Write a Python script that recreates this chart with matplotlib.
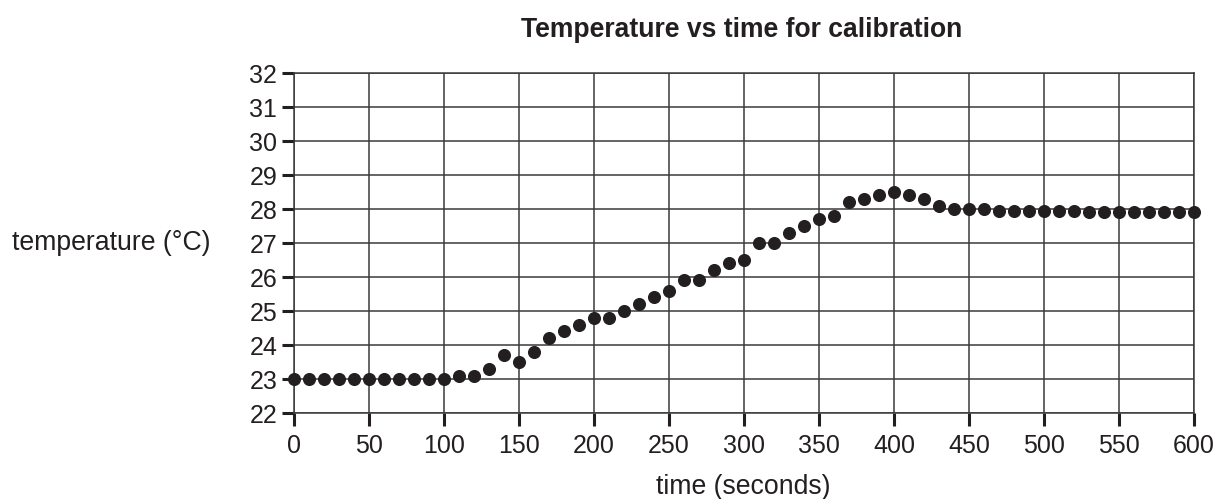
import matplotlib
matplotlib.use("Agg")
import matplotlib.pyplot as plt

# temperature readings every 10 s during the calibration run
time_s = list(range(0, 610, 10))
temp_c = [23.0, 23.0, 23.0, 23.0, 23.0, 23.0, 23.0, 23.0, 23.0, 23.0,
          23.0, 23.1, 23.1, 23.3, 23.7, 23.5, 23.8, 24.2, 24.4, 24.6,
          24.8, 24.8, 25.0, 25.2, 25.4, 25.6, 25.9, 25.9, 26.2, 26.4,
          26.5, 27.0, 27.0, 27.3, 27.5, 27.7, 27.8, 28.2, 28.3, 28.4,
          28.5, 28.4, 28.3, 28.1, 28.0, 28.0, 28.0, 27.95, 27.95, 27.95,
          27.95, 27.95, 27.95, 27.9, 27.9, 27.9, 27.9, 27.9, 27.9, 27.9,
          27.9]

x_ticks = list(range(0, 601, 50))
y_ticks = list(range(22, 33))

plt.rcParams["font.family"] = ["Liberation Sans", "DejaVu Sans"]
ink = "#231f20"
grid_col = "#3a3a3a"

fig = plt.figure(figsize=(12.18, 4.99), dpi=100)
ax = fig.add_axes([294 / 1218, 86 / 499, 900 / 1218, 340 / 499])

ax.plot(time_s, temp_c, "o", color=ink, markersize=8.4, clip_on=False, zorder=5)

ax.set_xlim(0, 600)
ax.set_ylim(22, 32)
ax.set_xticks(x_ticks)
ax.set_yticks(y_ticks)
ax.grid(True, color=grid_col, linewidth=1.1)
for s in ax.spines.values():
    s.set_color(grid_col)
    s.set_linewidth(1.1)
ax.tick_params(direction="out", length=9, width=2.2, color=ink,
               labelsize=18, labelcolor=ink)
ax.tick_params(axis="y", pad=3)
ax.tick_params(axis="x", pad=6)

fig.text(742 / 1218, 1 - 30 / 499, "Temperature vs time for calibration",
         ha="center", va="center", fontsize=19.1, fontweight="bold", color=ink)
fig.text(12 / 1218, 1 - 243 / 499, "temperature (°C)", ha="left", va="center",
         fontsize=19.2, color=ink)
fig.text(743 / 1218, 1 - 487 / 499, "time (seconds)", ha="center", va="center",
         fontsize=19.2, color=ink)

fig.savefig("out.png", dpi=100)
